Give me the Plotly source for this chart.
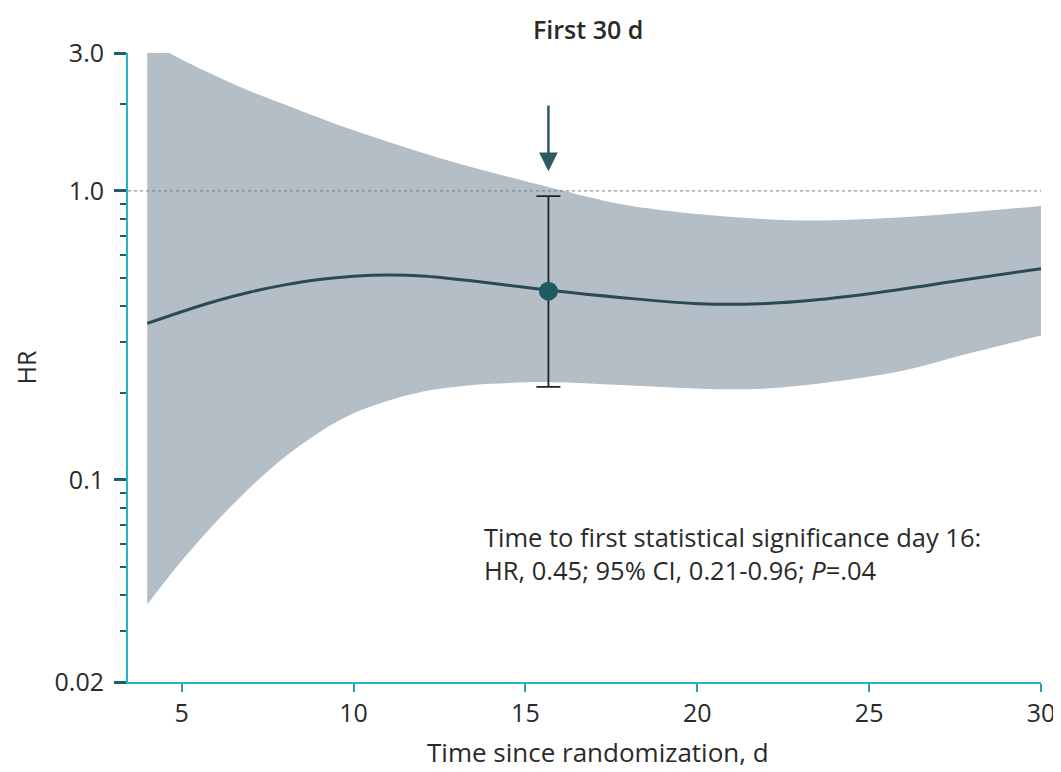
import math
import plotly.graph_objects as go

# Data
days_hr = [4.0, 5.0, 6.0, 7.0, 8.0, 9.0, 10.0, 11.0, 12.0, 13.67, 15.65, 17.74, 20.07, 21.81, 23.56, 25.88, 27.63, 30.0]
hr = [0.348, 0.382, 0.416, 0.447, 0.473, 0.494, 0.507, 0.512, 0.508, 0.485, 0.454, 0.428, 0.407, 0.407,
      0.421, 0.456, 0.490, 0.538]

days_ci = [4.0, 5.0, 6.0, 7.0, 8.0, 9.0, 10.0, 11.0, 12.0, 13.0, 14.0, 15.7, 17.8, 20.1, 21.9, 23.6, 26.0, 27.7, 30.0]
ci_upper = [3.31, 2.85, 2.50, 2.21, 1.99, 1.79, 1.62, 1.48, 1.355, 1.25, 1.16, 1.03, 0.90, 0.83, 0.80, 0.79,
            0.81, 0.84, 0.887]
ci_lower = [0.0371, 0.0525, 0.0716, 0.0944, 0.120, 0.146, 0.170, 0.188, 0.202, 0.210, 0.215, 0.218, 0.213,
            0.207, 0.207, 0.216, 0.239, 0.270, 0.316]

sig_day = [15.67]
sig_hr = [0.45]
sig_lo = [0.21]
sig_hi = [0.96]

x_ticks = [5, 10, 15, 20, 25, 30]
y_ticks = [0.02, 0.1, 1.0, 3.0]
y_tick_labels = ["0.02", "0.1", "1.0", "3.0"]
y_minor = [0.03, 0.04, 0.05, 0.06, 0.07, 0.08, 0.09,
           0.2, 0.3, 0.4, 0.5, 0.6, 0.7, 0.8, 0.9, 2.0]

FONT = "Open Sans"
TXT = "#2a2a2a"
AXIS_COLOR = "#29b3c9"
TICK_COLOR = "#1f5f6b"
BAND = "#b4bec6"
LINE = "#2b4a53"
MARK = "#1e5a62"

fig = go.Figure()

# confidence band
fig.add_trace(go.Scatter(x=days_ci, y=ci_upper, mode="lines",
                         line=dict(width=0, shape="spline", color=BAND),
                         hoverinfo="skip", showlegend=False))
fig.add_trace(go.Scatter(x=days_ci, y=ci_lower, mode="lines",
                         line=dict(width=0, shape="spline", color=BAND),
                         fill="tonexty", fillcolor=BAND, hoverinfo="skip", showlegend=False))

# reference line at HR = 1
fig.add_trace(go.Scatter(x=[3.44, 30], y=[1, 1], mode="lines",
                         line=dict(color="#7a7a7a", width=1, dash="dot"),
                         showlegend=False, hoverinfo="skip"))

fig.add_trace(go.Scatter(x=days_hr, y=hr, mode="lines",
                         line=dict(color=LINE, width=3, shape="spline"), showlegend=False))

# error bar + point
fig.add_trace(go.Scatter(x=sig_day, y=sig_hr, mode="markers",
                         marker=dict(color=MARK, size=19),
                         error_y=dict(type="data", symmetric=False,
                                      array=[h - m for h, m in zip(sig_hi, sig_hr)],
                                      arrayminus=[m - l for m, l in zip(sig_hr, sig_lo)],
                                      color="#222222", thickness=1.8, width=12),
                         showlegend=False))

# arrow (log axis: annotation coordinates in log10 units)
fig.add_annotation(x=sig_day[0], y=math.log10(1.17), xref="x", yref="y",
                   ax=sig_day[0], ay=math.log10(2.0), axref="x", ayref="y",
                   showarrow=True, arrowhead=2, arrowsize=1.5, arrowwidth=2.5,
                   arrowcolor="#2d5a5e", text="")

# result text
fig.add_annotation(x=13.75, y=math.log10(0.0556), xref="x", yref="y",
                   xanchor="left", yanchor="middle", showarrow=False, align="left",
                   text="Time to first statistical significance day 16:<br>"
                        "HR, 0.45; 95% CI, 0.21-0.96; <i>P</i>=.04",
                   font=dict(family=FONT, size=25.5, color=TXT))

# axis titles
fig.add_annotation(x=0.515, y=0, xref="paper", yref="paper", yanchor="middle", yshift=-70,
                   showarrow=False, text="Time since randomization, d",
                   font=dict(family=FONT, size=26, color=TXT))
fig.add_annotation(x=-0.1128, y=0.5, xref="paper", yref="paper", xanchor="center", yanchor="middle",
                   textangle=-90, showarrow=False, text="HR",
                   font=dict(family=FONT, size=25, color=TXT))

fig.update_layout(
    width=1053, height=764,
    margin=dict(l=120, r=20, t=45, b=90),
    plot_bgcolor="white", paper_bgcolor="white",
    font=dict(family=FONT, size=25, color=TXT),
    title=dict(text="First 30 d", x=0.504, xanchor="center", xref="paper",
               y=1 - 22 / 764, yref="container", yanchor="middle",
               font=dict(family=FONT, size=25, color=TXT, weight=600)),
    xaxis=dict(range=[3.44, 30], tickvals=x_ticks, ticks="outside", ticklen=8, tickwidth=2,
               tickcolor="#2a9bb0", showline=True, linecolor=AXIS_COLOR, linewidth=2,
               automargin=False, ticklabeloverflow="allow",
               showgrid=False, zeroline=False, tickfont=dict(size=25, color=TXT)),
    yaxis=dict(type="log", range=[math.log10(0.02), math.log10(3.0)],
               tickvals=y_ticks, ticktext=y_tick_labels, automargin=False,
               ticks="outside", ticklen=12, tickwidth=2.5, tickcolor=TICK_COLOR, ticklabelstandoff=5,
               showline=True, linecolor=AXIS_COLOR, linewidth=2, showgrid=False, zeroline=False,
               minor=dict(tickvals=y_minor, ticks="outside", ticklen=6, tickwidth=2,
                          tickcolor=TICK_COLOR, showgrid=False),
               tickfont=dict(size=25, color=TXT)),
)

fig.write_html("out.html")
